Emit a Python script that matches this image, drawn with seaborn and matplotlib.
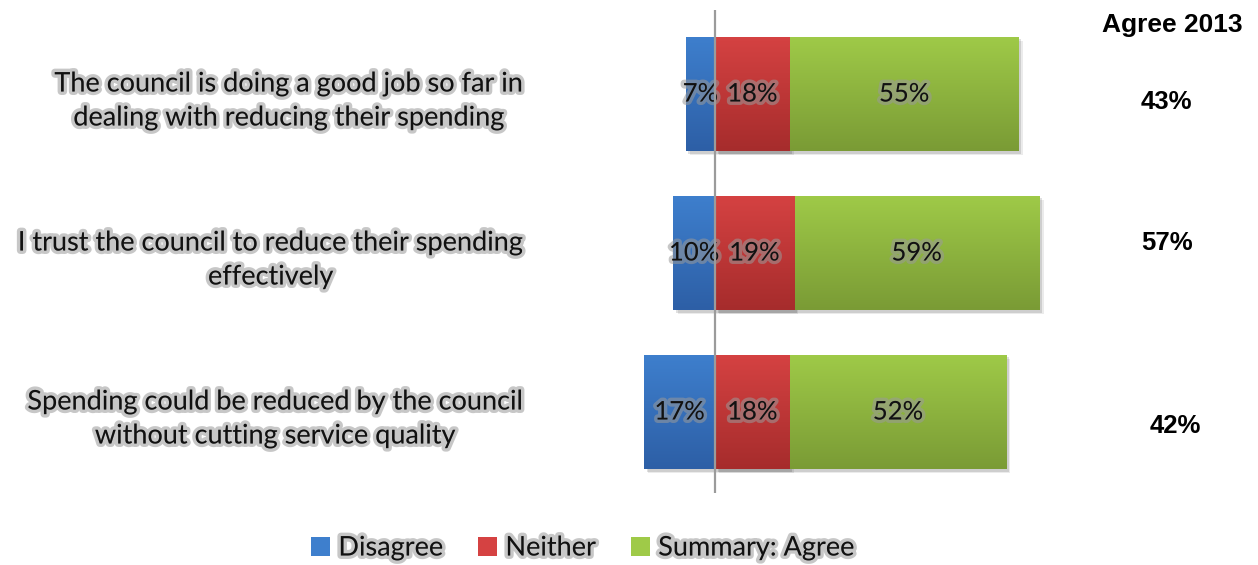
import numpy as np
import pandas as pd
import matplotlib
matplotlib.use("Agg")
import matplotlib.pyplot as plt
import matplotlib.patheffects as pe
from matplotlib.colors import LinearSegmentedColormap
from matplotlib.patches import Patch
from matplotlib.transforms import blended_transform_factory
import seaborn as sns

# Survey statements and response shares (%)
statements = [
    "The council is doing a good job so far in\ndealing with reducing their spending",
    "I trust the council to reduce their spending\neffectively",
    "Spending could be reduced by the council\nwithout cutting service quality",
]
disagree = [7, 10, 17]
neither = [18, 19, 18]
agree = [55, 59, 52]
agree_2013 = [43, 57, 42]
series_names = ["Disagree", "Neither", "Summary: Agree"]

# Colour pairs (top, bottom) for the vertical gradient on each series
blue = ("#3E7FCD", "#2D5FA6")
red = ("#D54242", "#A62C2C")
green = ("#9FCA48", "#7A9B35")

sns.set_theme(style="white")
plt.rcParams["font.family"] = ["Lato", "DejaVu Sans"]

W, H = 1258, 565
fig = plt.figure(figsize=(W / 100, H / 100), dpi=100)
ax = fig.add_axes([600 / W, 1 - 493 / H, 460 / W, 483 / H])

df = pd.DataFrame({
    "statement": statements,
    "neg_disagree": [-v for v in disagree],
    "neither": neither,
    "agree_end": [n + a for n, a in zip(neither, agree)],
})

bar_kw = dict(orient="h", width=0.72, saturation=1, errorbar=None, ax=ax)
sns.barplot(data=df, y="statement", x="agree_end", color=green[0], **bar_kw)
sns.barplot(data=df, y="statement", x="neither", color=red[0], **bar_kw)
sns.barplot(data=df, y="statement", x="neg_disagree", color=blue[0], **bar_kw)

xlim = (-115 / 4.16, 345 / 4.16)
ylim = (2 + 81 / 159, -84 / 159)

# Soft drop shadow plus top-to-bottom gradient fill clipped to each bar
palette = [green] * 3 + [red] * 3 + [blue] * 3
grad = np.linspace(0, 1, 256).reshape(-1, 1)
for patch, (c_top, c_bot) in zip(ax.patches, palette):
    patch.set_edgecolor("none")
    patch.set_path_effects([
        pe.SimplePatchShadow(offset=(3, -3), shadow_rgbFace="#000000", alpha=0.08),
        pe.SimplePatchShadow(offset=(1.8, -1.8), shadow_rgbFace="#000000", alpha=0.12),
        pe.Normal(),
    ])
    x0 = patch.get_x()
    x1 = x0 + patch.get_width()
    y0 = patch.get_y()
    y1 = y0 + patch.get_height()
    cmap = LinearSegmentedColormap.from_list("g", [c_top, c_bot])
    im = ax.imshow(grad, cmap=cmap, aspect="auto", origin="upper",
                   extent=(min(x0, x1), max(x0, x1), max(y0, y1), min(y0, y1)),
                   zorder=patch.get_zorder() + 0.1, interpolation="bilinear")
    im.set_clip_path(patch)

ax.set_xlim(*xlim)
ax.set_ylim(*ylim)

glow = [pe.withStroke(linewidth=5, foreground="#9a9a9a", alpha=0.55)]

# Value labels inside the bars
for i in range(len(statements)):
    for xc, v in [(-disagree[i] / 2, disagree[i]),
                  (neither[i] / 2, neither[i]),
                  (neither[i] + agree[i] / 2, agree[i])]:
        ax.text(xc, i, f"{v}%", ha="center", va="center", fontsize=18.5,
                color="#111111", path_effects=glow, zorder=5)

ax.axvline(0, color="#9b9b9b", lw=1.6, zorder=6)

for s in ax.spines.values():
    s.set_visible(False)
ax.set_xlabel("")
ax.set_ylabel("")
ax.set_xticks([])
ax.tick_params(axis="y", length=0, pad=55)
for t in ax.get_yticklabels():
    t.set_multialignment("center")
    t.set_linespacing(1.45)
    t.set_fontsize(19.5)
    t.set_color("#111111")
    t.set_path_effects(glow)

# Comparison column for the previous year
fig.text(1172 / W, 1 - 25 / H, "Agree 2013", ha="center", va="center",
         fontsize=19, fontweight="bold", family="Liberation Sans", color="#000000")
col_tr = blended_transform_factory(fig.transFigure, ax.transData)
row_nudge = [0.05, -0.06, 0.09]
col_x = [1166, 1167, 1175]
for i, v in enumerate(agree_2013):
    ax.text(col_x[i] / W, i + row_nudge[i], f"{v}%", transform=col_tr, ha="center", va="center",
            fontsize=18.5, fontweight="bold", family="Liberation Sans", color="#000000")

handles = [Patch(facecolor=c[0], edgecolor="none") for c in (blue, red, green)]
leg = fig.legend(handles, series_names, loc="center", bbox_to_anchor=(583 / W, 1 - 548 / H),
                 ncol=3, frameon=False, fontsize=19.5, handlelength=0.7, handleheight=0.7,
                 handletextpad=0.3, columnspacing=1.3)
for t in leg.get_texts():
    t.set_path_effects(glow)
    t.set_color("#111111")

fig.savefig("out.png", dpi=100)
